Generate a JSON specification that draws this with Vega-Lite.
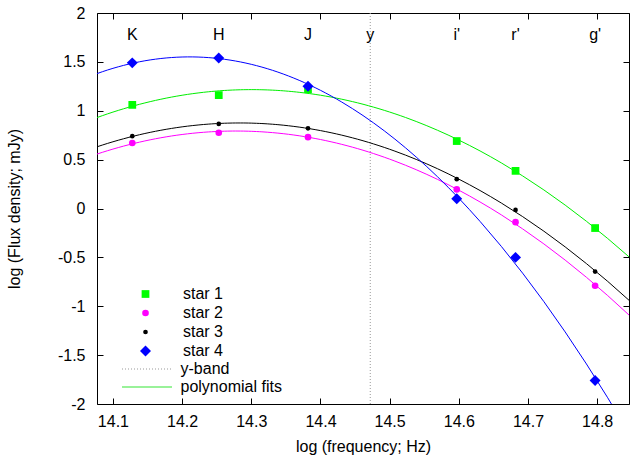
{
  "$schema": "https://vega.github.io/schema/vega-lite/v6.json",
  "width": 532,
  "height": 391,
  "autosize": "none",
  "padding": {"left": 97, "top": 13, "right": 5, "bottom": 56},
  "background": "white",
  "config": {
    "view": {"stroke": "#000000", "strokeWidth": 1},
    "font": "Liberation Sans",
    "axis": {
      "domain": false,
      "grid": false,
      "ticks": true,
      "zindex": 1,
      "offset": -6,
      "tickColor": "#000000",
      "tickOpacity": 1,
      "tickWidth": 1,
      "tickSize": 6,
      "labelFont": "Liberation Sans",
      "labelFontSize": 16,
      "labelColor": "#000000",
      "titleFont": "Liberation Sans",
      "titleFontSize": 16,
      "titleFontWeight": "normal",
      "titleColor": "#000000"
    },
    "legend": {
      "labelFont": "Liberation Sans",
      "labelFontSize": 16,
      "labelColor": "#000000",
      "padding": 0,
      "rowPadding": 3
    }
  },
  "datasets": {
    "stars": [
      {"star": "star 1", "band": "K", "logfreq": 14.128, "logflux": 1.06},
      {"star": "star 1", "band": "H", "logfreq": 14.253, "logflux": 1.16},
      {"star": "star 1", "band": "J", "logfreq": 14.382, "logflux": 1.22},
      {"star": "star 1", "band": "i'", "logfreq": 14.597, "logflux": 0.69},
      {"star": "star 1", "band": "r'", "logfreq": 14.682, "logflux": 0.385},
      {"star": "star 1", "band": "g'", "logfreq": 14.797, "logflux": -0.2},
      {"star": "star 2", "band": "K", "logfreq": 14.128, "logflux": 0.67},
      {"star": "star 2", "band": "H", "logfreq": 14.253, "logflux": 0.775},
      {"star": "star 2", "band": "J", "logfreq": 14.382, "logflux": 0.73},
      {"star": "star 2", "band": "i'", "logfreq": 14.597, "logflux": 0.195},
      {"star": "star 2", "band": "r'", "logfreq": 14.682, "logflux": -0.14},
      {"star": "star 2", "band": "g'", "logfreq": 14.797, "logflux": -0.79},
      {"star": "star 3", "band": "K", "logfreq": 14.128, "logflux": 0.74},
      {"star": "star 3", "band": "H", "logfreq": 14.253, "logflux": 0.865},
      {"star": "star 3", "band": "J", "logfreq": 14.382, "logflux": 0.82},
      {"star": "star 3", "band": "i'", "logfreq": 14.597, "logflux": 0.3},
      {"star": "star 3", "band": "r'", "logfreq": 14.682, "logflux": -0.015},
      {"star": "star 3", "band": "g'", "logfreq": 14.797, "logflux": -0.645},
      {"star": "star 4", "band": "K", "logfreq": 14.128, "logflux": 1.49},
      {"star": "star 4", "band": "H", "logfreq": 14.253, "logflux": 1.54},
      {"star": "star 4", "band": "J", "logfreq": 14.382, "logflux": 1.25},
      {"star": "star 4", "band": "i'", "logfreq": 14.597, "logflux": 0.1},
      {"star": "star 4", "band": "r'", "logfreq": 14.682, "logflux": -0.5},
      {"star": "star 4", "band": "g'", "logfreq": 14.797, "logflux": -1.76}
    ],
    "bands": [
      {"band": "K", "logfreq": 14.128, "pos": 1.775},
      {"band": "H", "logfreq": 14.253, "pos": 1.775},
      {"band": "J", "logfreq": 14.382, "pos": 1.775},
      {"band": "y", "logfreq": 14.472, "pos": 1.775},
      {"band": "i'", "logfreq": 14.597, "pos": 1.775},
      {"band": "r'", "logfreq": 14.682, "pos": 1.775},
      {"band": "g'", "logfreq": 14.797, "pos": 1.775}
    ],
    "yband": [{"logfreq": 14.472}]
  },
  "layer": [
    {
      "data": {"name": "yband"},
      "mark": {"type": "rule", "color": "#999999", "strokeWidth": 1},
      "encoding": {
        "x": {"field": "logfreq", "type": "quantitative", "scale": {"domain": [14.077, 14.846], "nice": false, "zero": false},
              "axis": {"orient": "top", "labels": false, "title": null, "ticks": true, "tickSize": 6, "values": [14.1, 14.2, 14.3, 14.4, 14.5, 14.6, 14.7, 14.8]}},
        "strokeDash": {
          "datum": "y-band",
          "scale": {"domain": ["y-band"], "range": [[1, 2]]},
          "legend": {
            "title": null,
            "orient": "none",
            "legendX": 42,
            "legendY": 348,
            "symbolType": "M-5,0H5",
            "symbolSize": 100,
            "symbolStrokeWidth": 1,
            "symbolStrokeColor": "#999999",
            "labelOffset": 25.5
          }
        }
      }
    },
    {
      "data": {"name": "stars"},
      "transform": [
        {"regression": "logflux", "on": "logfreq", "groupby": ["star"], "method": "poly", "order": 2, "extent": [14.077, 14.846]}
      ],
      "mark": {"type": "line", "clip": true, "strokeWidth": 1},
      "encoding": {
        "x": {"field": "logfreq", "type": "quantitative", "axis": null},
        "y": {"field": "logflux", "type": "quantitative", "scale": {"domain": [-2, 2], "nice": false, "zero": false},
              "axis": {"orient": "right", "labels": false, "title": null, "ticks": true, "tickSize": 6, "values": [-2, -1.5, -1, -0.5, 0, 0.5, 1, 1.5, 2]}},
        "stroke": {"field": "star", "type": "nominal", "scale": {"range": ["#00ee00", "#ff00ff", "#000000", "#0000ff"]}, "legend": null},
        "opacity": {
          "datum": "polynomial fits",
          "scale": {"type": "ordinal", "domain": ["polynomial fits"], "range": [1]},
          "legend": {
            "title": null,
            "orient": "none",
            "legendX": 42,
            "legendY": 366,
            "symbolType": "M-5,0H5",
            "symbolSize": 100,
            "symbolStrokeWidth": 1.5,
            "symbolStrokeColor": "#77ee77",
            "symbolFillColor": "transparent",
            "labelOffset": 25.5
          }
        }
      }
    },
    {
      "data": {"name": "stars"},
      "mark": {"type": "point", "filled": true, "opacity": 1},
      "encoding": {
        "x": {"field": "logfreq", "type": "quantitative",
              "axis": {"orient": "bottom", "title": "log (frequency; Hz)", "format": ".1f", "ticks": true, "tickSize": 6, "values": [14.1, 14.2, 14.3, 14.4, 14.5, 14.6, 14.7, 14.8], "labelPadding": 9, "titlePadding": 9}},
        "y": {"field": "logflux", "type": "quantitative",
              "axis": {"orient": "left", "title": "log (Flux density; mJy)", "ticks": true, "tickSize": 6, "values": [-2, -1.5, -1, -0.5, 0, 0.5, 1, 1.5, 2], "labelExpr": "datum.value + ''", "labelPadding": 12, "titlePadding": 35}},
        "color": {"field": "star", "type": "nominal", "scale": {"domain": ["star 1", "star 2", "star 3", "star 4"], "range": ["#00ff00", "#ff00ff", "#000000", "#0000ff"]},
                  "legend": {"title": null, "orient": "none", "legendX": 40.5, "legendY": 273, "labelOffset": 29.5}},
        "shape": {"field": "star", "type": "nominal", "scale": {"domain": ["star 1", "star 2", "star 3", "star 4"], "range": ["square", "circle", "circle", "diamond"]}},
        "size": {"field": "star", "type": "ordinal", "scale": {"type": "ordinal", "domain": ["star 1", "star 2", "star 3", "star 4"], "range": [60, 44, 22, 120]}}
      }
    },
    {
      "data": {"name": "bands"},
      "mark": {"type": "text", "font": "Liberation Sans", "fontSize": 16, "color": "#000000", "baseline": "middle", "align": "center"},
      "encoding": {
        "x": {"field": "logfreq", "type": "quantitative", "axis": null},
        "y": {"field": "pos", "type": "quantitative", "axis": null},
        "text": {"field": "band", "type": "nominal"}
      }
    }
  ],
  "resolve": {"axis": {"x": "independent", "y": "independent"}}
}
